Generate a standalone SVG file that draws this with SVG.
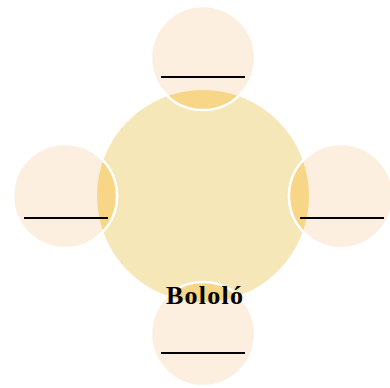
<svg xmlns="http://www.w3.org/2000/svg" width="390" height="388" viewBox="0 0 390 388">
  <style>
    .big { fill: #f6e7b9; }
    .small { fill: #fdefdf; }
    .overlap { fill: #f8d687; }
    .ring { fill: none; stroke: #ffffff; stroke-width: 2.5; }
    .rule { stroke: #000000; stroke-width: 2; }
    .label { font-family: "Liberation Serif", "DejaVu Serif", serif; font-weight: bold; font-size: 26px; fill: #000000; }
  </style>
  <defs>
    <clipPath id="clipTop"><circle cx="203" cy="58" r="52"/></clipPath>
    <clipPath id="clipLeft"><circle cx="65" cy="196" r="52"/></clipPath>
    <clipPath id="clipRight"><circle cx="341" cy="196" r="52"/></clipPath>
    <clipPath id="clipBottom"><circle cx="203" cy="334" r="52"/></clipPath>
  </defs>
  <g id="center">
    <circle class="big" cx="203" cy="196" r="106"/>
  </g>
  <g id="node-top">
    <circle class="small" cx="203" cy="58" r="52"/>
    <circle class="overlap" cx="203" cy="196" r="106" clip-path="url(#clipTop)"/>
    <circle class="ring" cx="203" cy="58" r="52"/>
    <line class="rule" x1="161" y1="77" x2="245" y2="77"/>
  </g>
  <g id="node-left">
    <circle class="small" cx="65" cy="196" r="52"/>
    <circle class="overlap" cx="203" cy="196" r="106" clip-path="url(#clipLeft)"/>
    <circle class="ring" cx="65" cy="196" r="52"/>
    <line class="rule" x1="24" y1="218" x2="108" y2="218"/>
  </g>
  <g id="node-right">
    <circle class="small" cx="341" cy="196" r="52"/>
    <circle class="overlap" cx="203" cy="196" r="106" clip-path="url(#clipRight)"/>
    <circle class="ring" cx="341" cy="196" r="52"/>
    <line class="rule" x1="300" y1="218" x2="384" y2="218"/>
  </g>
  <g id="node-bottom">
    <circle class="small" cx="203" cy="334" r="52"/>
    <circle class="overlap" cx="203" cy="196" r="106" clip-path="url(#clipBottom)"/>
    <circle class="ring" cx="203" cy="334" r="52"/>
    <line class="rule" x1="161" y1="353" x2="245" y2="353"/>
  </g>
  <g id="connectors"></g>
  <text class="label" x="204.5" y="304" text-anchor="middle" textLength="77" lengthAdjust="spacing">Bololó</text>
</svg>
